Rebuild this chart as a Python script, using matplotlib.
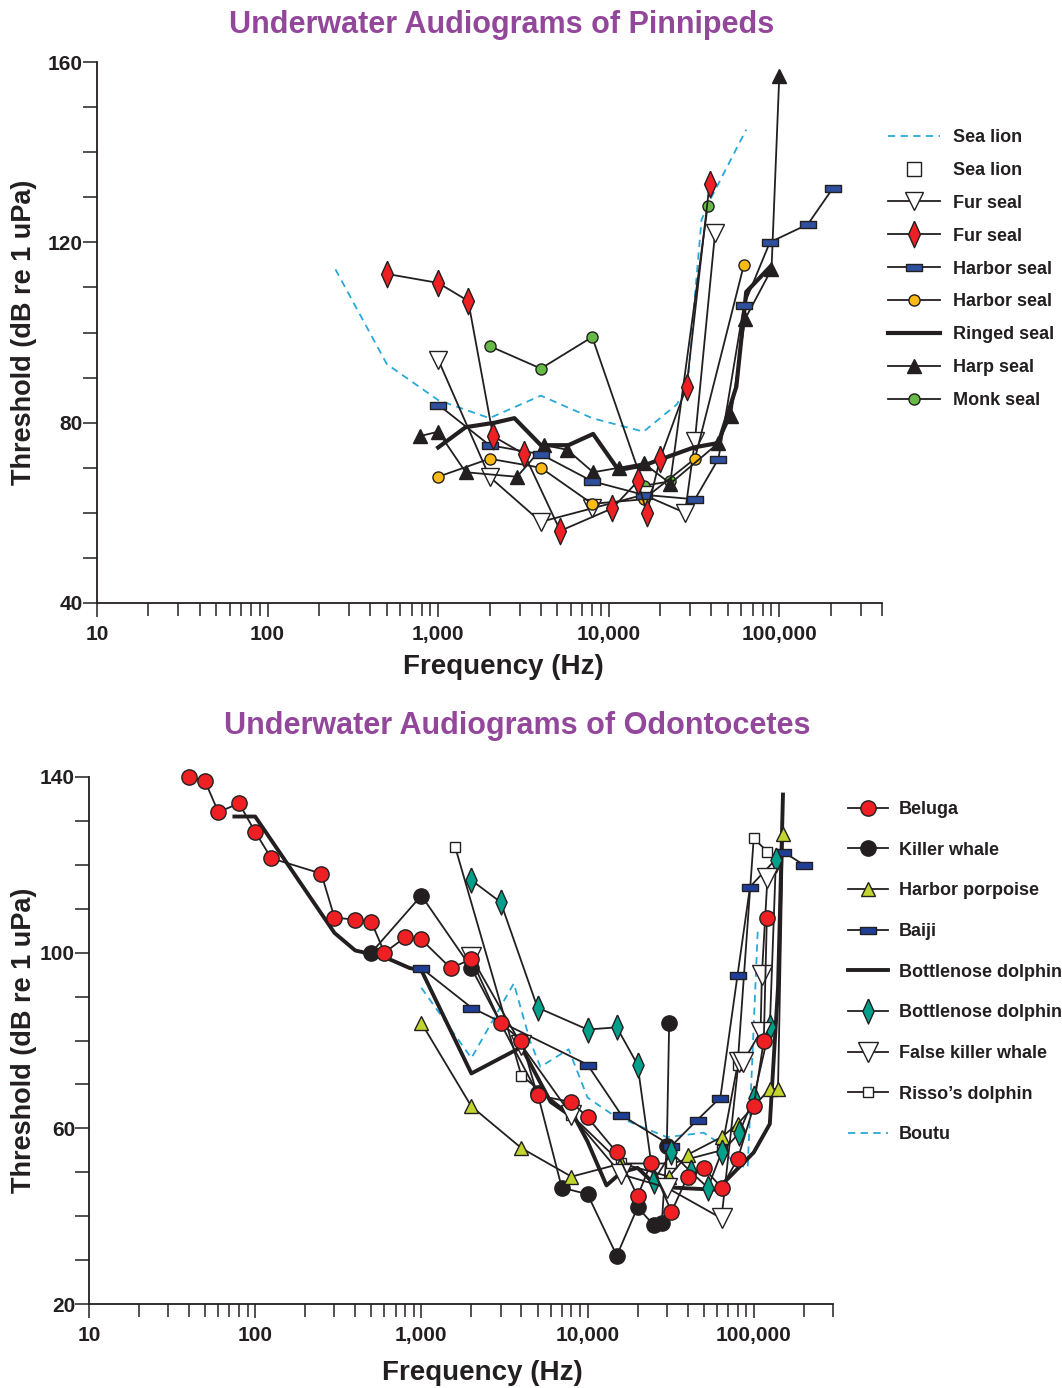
import matplotlib
matplotlib.use('Agg')
import matplotlib.pyplot as plt
from matplotlib.lines import Line2D
from matplotlib.ticker import FixedLocator, FuncFormatter, NullFormatter

plt.rcParams['font.family'] = ['Liberation Sans', 'DejaVu Sans']
plt.rcParams['font.weight'] = 'bold'
plt.rcParams['axes.labelweight'] = 'bold'

# ---------------- Pinnipeds data ----------------
sealion_dash_f = [250, 500, 1000, 2000, 4000, 8000, 16000, 25000, 29000, 32000, 35000, 40000, 64000]
sealion_dash_t = [114, 93, 85, 81, 86, 81, 78, 84, 88, 108, 125, 130, 145]

furseal_tri_f = [1000, 2000, 4000, 8000, 16000, 28000, 32000, 42000]
furseal_tri_t = [94, 68, 58, 61, 64, 60, 76, 122]

furseal_dia_f = [500, 1000, 1500, 2100, 3200, 5200, 10500, 14800, 16700, 20000, 28600, 39000]
furseal_dia_t = [113, 111, 107, 77, 73, 56, 61, 67, 60, 72, 88, 133]

harbor_rect_f = [1000, 2000, 4000, 8000, 16000, 32000, 44000, 62000, 88000, 147000, 206000]
harbor_rect_t = [84, 75, 73, 67, 64, 63, 72, 106, 120, 124, 132]

harbor_circ_f = [1000, 2000, 4000, 8000, 16000, 32000, 62000]
harbor_circ_t = [68, 72, 70, 62, 63, 72, 115]

ringed_f = [1000, 1450, 2150, 2800, 4000, 5800, 8100, 11400, 16000, 31500, 44000, 56000, 64000, 88000]
ringed_t = [74.5, 79, 80, 81, 75, 75, 77.5, 69.5, 70.5, 74.5, 75.5, 88, 109, 114.5]

harp_f = [780, 1000, 1450, 2900, 4200, 5700, 8100, 11500, 16000, 23000, 44000, 52000, 63000, 90000, 100000]
harp_t = [77, 78, 69, 68, 75, 74, 69, 70, 71, 66.5, 75.5, 81.5, 103, 114, 157]

monk_f = [2000, 4000, 8000, 16000, 23000, 38000]
monk_t = [97, 92, 99, 66, 67, 128]

# ---------------- Odontocetes data ----------------
beluga_f = [40, 50, 60, 80, 100, 125, 250, 300, 400, 500, 600, 800, 1000, 1500, 2000, 3000, 4000,
            5000, 8000, 10000, 15000, 20000, 24000, 32000, 40000, 50000, 64000, 80000, 100000, 115000, 120000]
beluga_t = [140, 139, 132, 134, 127.5, 121.5, 118, 108, 107.5, 107, 100, 103.5, 103, 96.5, 98.5, 84, 80,
            67.5, 66, 62.5, 54.5, 44.5, 52, 41, 49, 51, 46.5, 53, 65, 80, 108]

killer_f = [500, 1000, 2000, 5000, 7000, 10000, 15000, 20000, 25000, 28000, 30000, 31000]
killer_t = [100, 113, 96.5, 68, 46.5, 45, 31, 42, 38, 38.5, 56, 84]

porpoise_f = [1000, 2000, 4000, 8000, 16000, 31000, 40000, 64000, 80000, 125000, 140000, 150000]
porpoise_t = [84, 65, 55.5, 49, 52, 49, 54, 58, 61, 69, 69, 127]

baiji_f = [1000, 2000, 10000, 16000, 32000, 46000, 63000, 80000, 95000, 150000, 200000]
baiji_t = [96.5, 87.5, 74.5, 63, 56, 62, 67, 95, 115, 123, 120]

bottle_line_f = [75, 100, 300, 400, 600, 850, 1000, 2000, 4000, 6000, 8500, 10000, 13000, 16000,
                 20000, 25000, 33000, 60000, 100000, 125000, 140000, 150000]
bottle_line_t = [131, 131, 104.5, 100.5, 99, 96.5, 96, 72.5, 78.5, 66, 62, 57, 47, 50,
                 51, 47.5, 46.5, 46, 54.5, 61, 92, 136]

bottle_dia_f = [2000, 3000, 5000, 10000, 15000, 20000, 25000, 32000, 42000, 53000, 64000, 82000, 100000, 125000, 136000]
bottle_dia_t = [116.5, 111.5, 87.5, 82.5, 83, 74.5, 48, 54.5, 50, 46.5, 54.5, 59, 67, 83, 121]

fkw_f = [2000, 4000, 8000, 16000, 30000, 64000, 81000, 86000, 110000, 112000, 121000]
fkw_t = [99, 79, 63, 49.5, 46.5, 39.5, 75, 75, 82, 95, 117]

risso_f = [1600, 4000, 8000, 16000, 32000, 64000, 80000, 100000, 121000]
risso_t = [124, 72, 63, 52, 52, 55, 74.5, 126, 123]

boutu_f = [1000, 2000, 3600, 4500, 5200, 7700, 10000, 14300, 30000, 50000, 60000, 76000, 92000, 106000]
boutu_t = [92, 76, 93, 80, 74, 78, 67, 63, 58, 59, 57, 52, 51, 106]

# ---------------- styling ----------------
DARK = '#231F20'
PURPLE = '#93479B'
CYAN = '#29A8D8'
RECT = [(-1, -0.42), (1, -0.42), (1, 0.42), (-1, 0.42), (-1, -0.42)]
DIAM = [(0, 1), (0.45, 0), (0, -1), (-0.45, 0), (0, 1)]

fig = plt.figure(figsize=(10.62, 13.88), dpi=100)
W, H = 1062, 1388
ax1 = fig.add_axes([97 / W, 1 - 603 / H, (882 - 97) / W, (603 - 62) / H])
ax2 = fig.add_axes([89 / W, 1 - 1304 / H, (833 - 89) / W, (1304 - 777) / H])


def style_axes(ax, xmax, ymin, ymax):
    ax.set_xscale('log')
    ax.set_xlim(10, xmax)
    ax.set_ylim(ymin, ymax)
    for s in ['top', 'right']:
        ax.spines[s].set_visible(False)
    for s in ['left', 'bottom']:
        ax.spines[s].set_color(DARK)
        ax.spines[s].set_linewidth(1.3)
    majors = [10, 100, 1000, 10000, 100000]
    minors = [m * d for d in [10, 100, 1000, 10000, 100000] for m in range(2, 10) if m * d <= xmax * 1.001]
    ax.xaxis.set_major_locator(FixedLocator(majors))
    ax.xaxis.set_minor_locator(FixedLocator(minors))
    ax.xaxis.set_major_formatter(FuncFormatter(lambda v, p: f'{int(round(v)):,}'))
    ax.xaxis.set_minor_formatter(NullFormatter())
    ax.yaxis.set_major_locator(FixedLocator(list(range(ymin, ymax + 1, 40))))
    ax.yaxis.set_minor_locator(FixedLocator(list(range(ymin, ymax + 1, 10))))
    ax.tick_params(axis='both', which='both', direction='out', color=DARK, width=1.1)
    ax.tick_params(axis='x', which='major', length=10, labelsize=15, labelcolor=DARK, pad=6)
    ax.tick_params(axis='x', which='minor', length=9)
    ax.tick_params(axis='y', which='both', length=10, labelsize=15, labelcolor=DARK, pad=0)
    ax.set_xlabel('Frequency (Hz)', fontsize=20, color=DARK, fontweight='bold')
    ax.set_ylabel('Threshold (dB re 1 uPa)', fontsize=19.5, color=DARK, fontweight='bold')
    for lab in ax.get_xticklabels() + ax.get_yticklabels():
        lab.set_fontweight('bold')


style_axes(ax1, 400000, 40, 160)
style_axes(ax2, 300000, 20, 140)
ax1.yaxis.set_label_coords(-(97 - 37) / 785, 0.5)
ax2.yaxis.set_label_coords(-(89 - 37) / 744, 0.5)
ax1.xaxis.set_label_coords((503 - 97) / 785, -(654 - 603) / 541)
ax2.xaxis.set_label_coords((482 - 89) / 744, -(1360 - 1304) / 527)


def series(ax, f, t, **kw):
    base = dict(color=DARK, lw=1.3, mec=DARK, mew=1.0, clip_on=False)
    base.update(kw)
    ax.plot(f, t, **base)


# ---- top panel ----
series(ax1, sealion_dash_f, sealion_dash_t, color=CYAN, lw=1.3, ls=(0, (4, 3)))
series(ax1, monk_f, monk_t, marker='o', ms=8, mfc='#66BB46')
series(ax1, furseal_tri_f, furseal_tri_t, marker='v', ms=13, mfc='white')
series(ax1, harbor_circ_f, harbor_circ_t, marker='o', ms=8, mfc='#FDBB13')
series(ax1, ringed_f, ringed_t, lw=3.0)
series(ax1, harp_f, harp_t, marker='^', ms=10, mfc=DARK)
series(ax1, harbor_rect_f, harbor_rect_t, marker=RECT, ms=12, mfc='#2F4F9F')
series(ax1, furseal_dia_f, furseal_dia_t, marker=DIAM, ms=19, mfc='#EE2024')

# ---- bottom panel ----
series(ax2, boutu_f, boutu_t, color=CYAN, lw=1.3, ls=(0, (4, 3)))
series(ax2, bottle_line_f, bottle_line_t, lw=2.8)
series(ax2, killer_f, killer_t, marker='o', ms=11, mfc=DARK)
series(ax2, risso_f, risso_t, marker='s', ms=7, mfc='white')
series(ax2, porpoise_f, porpoise_t, marker='^', ms=10, mfc='#C2D52F')
series(ax2, baiji_f, baiji_t, marker=RECT, ms=12, mfc='#1F3F96')
series(ax2, bottle_dia_f, bottle_dia_t, marker=DIAM, ms=18, mfc='#00A08A')
series(ax2, fkw_f, fkw_t, marker='v', ms=14, mfc='white')
series(ax2, beluga_f, beluga_t, marker='o', ms=11, mfc='#EE2024')

# ---- titles ----
fig.text(502 / W, 1 - 25 / H, 'Underwater Audiograms of Pinnipeds', ha='center', va='center',
         fontsize=22, color=PURPLE, fontweight='bold')
fig.text(517 / W, 1 - 726 / H, 'Underwater Audiograms of Odontocetes', ha='center', va='center',
         fontsize=22, color=PURPLE, fontweight='bold')


def L(**kw):
    base = dict(color=DARK, lw=1.3, mec=DARK, mew=1.0)
    base.update(kw)
    return Line2D([], [], **base)


h1 = [L(color=CYAN, ls=(0, (4, 3))), L(ls='none', marker='s', ms=10, mfc='white'),
      L(marker='v', ms=13, mfc='white'), L(marker=DIAM, ms=19, mfc='#EE2024'),
      L(marker=RECT, ms=12, mfc='#2F4F9F'), L(marker='o', ms=8, mfc='#FDBB13'),
      L(lw=3.0), L(marker='^', ms=10, mfc=DARK), L(marker='o', ms=8, mfc='#66BB46')]
l1 = ['Sea lion', 'Sea lion', 'Fur seal', 'Fur seal', 'Harbor seal', 'Harbor seal',
      'Ringed seal', 'Harp seal', 'Monk seal']
leg1 = fig.legend(h1, l1, loc='upper left', bbox_to_anchor=(888 / W, 1 - 129 / H), frameon=False,
                  fontsize=13, handlelength=2.9, labelspacing=0.88, handletextpad=0.7,
                  borderaxespad=0, borderpad=0)
for t in leg1.get_texts():
    t.set_color(DARK)

h2 = [L(marker='o', ms=11, mfc='#EE2024'), L(marker='o', ms=11, mfc=DARK),
      L(marker='^', ms=10, mfc='#C2D52F'), L(marker=RECT, ms=12, mfc='#1F3F96'),
      L(lw=2.8), L(marker=DIAM, ms=18, mfc='#00A08A'), L(marker='v', ms=14, mfc='white'),
      L(marker='s', ms=7, mfc='white'), L(color=CYAN, ls=(0, (4, 3)))]
l2 = ['Beluga', 'Killer whale', 'Harbor porpoise', 'Baiji', 'Bottlenose dolphin',
      'Bottlenose dolphin', 'False killer whale', 'Risso\u2019s dolphin', 'Boutu']
leg2 = fig.legend(h2, l2, loc='upper left', bbox_to_anchor=(848 / W, 1 - 801 / H), frameon=False,
                  fontsize=13, handlelength=2.2, labelspacing=1.31, handletextpad=0.6,
                  borderaxespad=0, borderpad=0)
for t in leg2.get_texts():
    t.set_color(DARK)

fig.savefig('out.png', dpi=100)
